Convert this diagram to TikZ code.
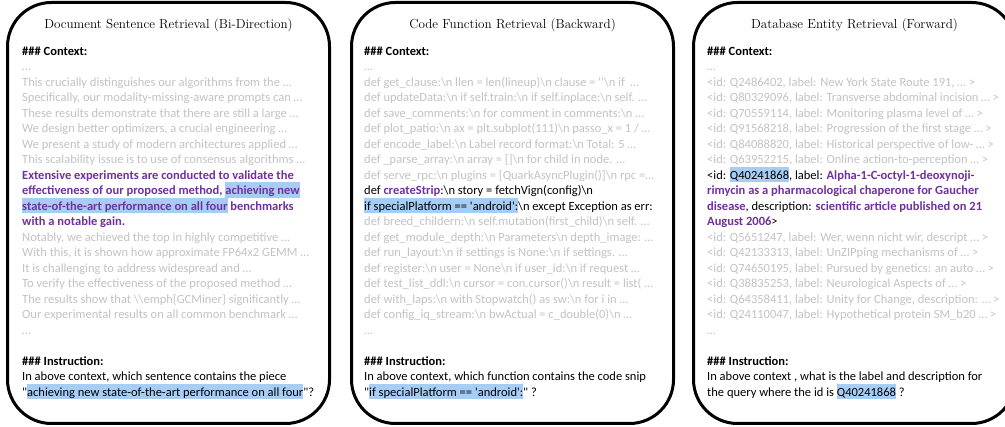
\documentclass[tikz,border=0pt]{standalone}
\usepackage{fontspec}
\newfontfamily\cb{Carlito}
\definecolor{txtgray}{RGB}{195,195,195}
\definecolor{hlblue}{RGB}{166,206,245}
\definecolor{tpurple}{RGB}{112,48,160}
\newcommand\hlt[1]{{\setlength{\fboxsep}{0pt}\colorbox{hlblue}{\rule[-3.2pt]{0pt}{15.5pt}#1}}}
\newcommand\pb[1]{\textcolor{tpurple}{\bfseries #1}}
\newcommand\gr[1]{\textcolor{txtgray}{#1}}
\newcommand\bsn{\textbackslash n}
\newcommand\sq{\textquotesingle}
\newcommand\firststrut{\rule{0pt}{12.3pt}}
\begin{document}
\begin{tikzpicture}[x=1pt,y=-1pt,
  panel/.style={draw=black, line width=3pt, rounded corners=44pt, minimum width=322pt, minimum height=421pt, inner sep=0pt, outer sep=0pt, anchor=north west},
  ptitle/.style={anchor=base, inner sep=0pt, font=\fontsize{13.1}{16}\selectfont},
  body/.style={anchor=north west, align=left, inner sep=0pt, font=\cb\fontsize{12.5}{15.5}\selectfont}]
\fill[white] (0,0) rectangle (1005,427);
\useasboundingbox (0,0) rectangle (1005,427);

\node[panel] (p1) at (7.5,2.5) {};
\node[panel] (p2) at (351.5,2.5) {};
\node[panel] (p3) at (693.5,2.5) {};

\node[ptitle] (t1) at (168.5,29) {Document Sentence Retrieval (Bi-Direction)};
\node[ptitle] (t2) at (512.5,29) {Code Function Retrieval (Backward)};
\node[ptitle] (t3) at (854.5,29) {Database Entity Retrieval (Forward)};

\node[body] (b1) at (22,42.7) {%
\firststrut\textbf{\#\#\# Context:}\\
\gr{…}\\
\gr{This crucially distinguishes our algorithms from the …}\\
\gr{Specifically, our modality-missing-aware prompts can …}\\
\gr{These results demonstrate that there are still a large …}\\
\gr{We design better optimizers, a crucial engineering …}\\
\gr{We present a study of modern architectures applied …}\\
\gr{This scalability issue is to use of consensus algorithms …}\\
\pb{Extensive experiments are conducted to validate the}\\
\pb{effectiveness of our proposed method, \hlt{achieving new}}\\
\pb{\hlt{state-of-the-art performance on all four} benchmarks}\\
\pb{with a notable gain.}\\
\gr{Notably, we achieved the top in highly competitive …}\\
\gr{With this, it is shown how approximate FP64x2 GEMM …}\\
\gr{It is challenging to address widespread and …}\\
\gr{To verify the effectiveness of the proposed method …}\\
\gr{The results show that \textbackslash\textbackslash emph\{GCMiner\} significantly …}\\
\gr{Our experimental results on all common benchmark …}\\
\gr{…}\\[15.5pt]
\textbf{\#\#\# Instruction:}\\
In above context, which sentence contains the piece\\
"\hlt{achieving new state-of-the-art performance on all four}"?};

\node[body] (b2) at (364,42.7) {%
\firststrut\textbf{\#\#\# Context:}\\
\gr{…}\\
\gr{def get\_clause:\bsn{} llen = len(lineup)\bsn{} clause = \sq\sq\bsn{} if \ …}\\
\gr{def updateData:\bsn{} if self.train:\bsn{} if self.inplace:\bsn{} self. …}\\
\gr{def save\_comments:\bsn{} for comment in comments:\bsn{} …}\\
\gr{def plot\_patio:\bsn{} ax = plt.subplot(111)\bsn{} passo\_x = 1 / …}\\
\gr{def encode\_label:\bsn{} Label record format:\bsn{} Total: 5 …}\\
\gr{def \_parse\_array:\bsn{} array = []\bsn{} for child in node. …}\\
\gr{def serve\_rpc:\bsn{} plugins = [QuarkAsyncPlugin()]\bsn{} rpc =…}\\
def \pb{createStrip}:\bsn{} story = fetchVign(config)\bsn\\
\hlt{if specialPlatform == \sq android\sq:}\bsn{} except Exception as err:\\
\gr{def breed\_childern:\bsn{} self.mutation(first\_child)\bsn{} self. …}\\
\gr{def get\_module\_depth:\bsn{} Parameters\bsn{} depth\_image: …}\\
\gr{def run\_layout:\bsn{} if settings is None:\bsn{} if settings. …}\\
\gr{def register:\bsn{} user = None\bsn{} if user\_id:\bsn{} if request …}\\
\gr{def test\_list\_ddl:\bsn{} cursor = con.cursor()\bsn{} result = list( …}\\
\gr{def with\_laps:\bsn{} with Stopwatch() as sw:\bsn{} for i in …}\\
\gr{def config\_iq\_stream:\bsn{} bwActual = c\_double(0)\bsn{} …}\\
\gr{…}\\[15.5pt]
\textbf{\#\#\# Instruction:}\\
In above context, which function contains the code snip\\
"\hlt{if specialPlatform == \sq android\sq:}" ?};

\node[body] (b3) at (707,42.7) {%
\firststrut\textbf{\#\#\# Context:}\\
\gr{…}\\
\gr{<id: Q2486402, label: New York State Route 191, … >}\\
\gr{<id: Q80329096, label: Transverse abdominal incision … >}\\
\gr{<id: Q70559114, label: Monitoring plasma level of … >}\\
\gr{<id: Q91568218, label: Progression of the first stage … >}\\
\gr{<id: Q84088820, label: Historical perspective of low- … >}\\
\gr{<id: Q63952215, label: Online action-to-perception … >}\\
<id: \hlt{Q40241868}, label: \pb{Alpha-1-C-octyl-1-deoxynoji-}\\
\pb{rimycin as a pharmacological chaperone for Gaucher}\\
\pb{disease}, description: \pb{scientific article published on 21}\\
\pb{August 2006}>\\
\gr{<id: Q5651247, label: Wer, wenn nicht wir, descript … >}\\
\gr{<id: Q42133313, label: UnZIPping mechanisms of … >}\\
\gr{<id: Q74650195, label: Pursued by genetics: an auto … >}\\
\gr{<id: Q38835253, label: Neurological Aspects of … >}\\
\gr{<id: Q64358411, label: Unity for Change, description: … >}\\
\gr{<id: Q24110047, label: Hypothetical protein SM\_b20 … >}\\
\gr{…}\\[15.5pt]
\textbf{\#\#\# Instruction:}\\
In above context , what is the label and description for\\
the query where the id is \hlt{Q40241868} ?};
\end{tikzpicture}
\end{document}
